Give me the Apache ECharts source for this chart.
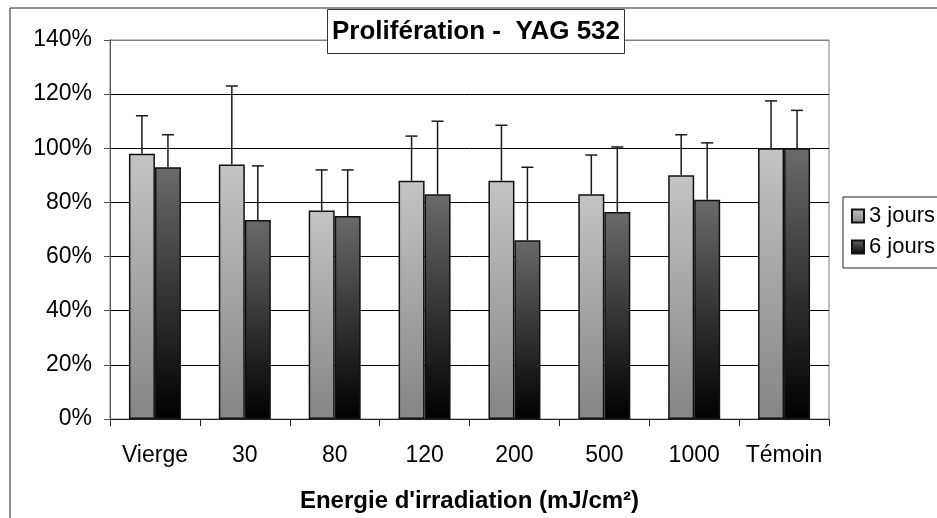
<!DOCTYPE html>
<html>
<head>
<meta charset="utf-8">
<script src="https://cdn.jsdelivr.net/npm/echarts@6/dist/echarts.min.js"></script>
<style>
html,body{margin:0;padding:0;background:#fff;}
#chart{width:937px;height:518px;}
</style>
</head>
<body>
<div id="chart"></div>
<script>
var categories = ['Vierge', '30', '80', '120', '200', '500', '1000', 'Témoin'];
var seriesNames = ['3 jours', '6 jours'];
var values3j = [98, 94, 77, 88, 88, 83, 90, 100];
var values6j = [93, 73.5, 75, 83, 66, 76.5, 81, 100];
var errors3j = [14, 29, 15, 16.5, 20.5, 14.5, 15, 17.5];
var errors6j = [12, 20, 17, 27, 27, 24, 21, 14];
var yTicks = [0, 20, 40, 60, 80, 100, 120, 140];
var titleText = 'Prolifération -  YAG 532';
var xAxisTitle = "Energie d'irradiation (mJ/cm²)";

var FONT = '"Liberation Sans", Arial, sans-serif';
var BAR_W = 26;

var lightGrad = new echarts.graphic.LinearGradient(0, 0, 0, 1, [
  {offset: 0, color: '#c4c4c4'}, {offset: 1, color: '#858585'}]);
var darkGrad = new echarts.graphic.LinearGradient(0, 0, 0, 1, [
  {offset: 0, color: '#6a6a6a'}, {offset: 1, color: '#000000'}]);

function errSeries(vals, errs, offset) {
  var data = vals.map(function (v, i) { return [i, v, v + errs[i]]; });
  return {
    type: 'custom',
    z: 5,
    silent: true,
    data: data,
    encode: {x: 0, y: [1, 2]},
    renderItem: function (params, api) {
      var lo = api.coord([api.value(0), api.value(1)]);
      var hi = api.coord([api.value(0), api.value(2)]);
      var x = lo[0] + offset;
      var style = {stroke: '#1a1a1a', lineWidth: 1.5};
      return {
        type: 'group',
        children: [
          {type: 'line', shape: {x1: x, y1: lo[1], x2: x, y2: hi[1]}, style: style},
          {type: 'line', shape: {x1: x - 6, y1: hi[1], x2: x + 6, y2: hi[1]}, style: style}
        ]
      };
    }
  };
}

var splitColors = yTicks.map(function (t, i) { return i === yTicks.length - 1 ? '#808080' : '#000000'; });

var chart = echarts.init(document.getElementById('chart'), null, {renderer: 'canvas'});
chart.setOption({
  animation: false,
  backgroundColor: '#ffffff',
  textStyle: {fontFamily: FONT},
  graphic: [{
    type: 'rect',
    z: -10,
    shape: {x: 10, y: 8, width: 1100, height: 700},
    style: {fill: 'none', stroke: '#222', lineWidth: 1}
  }],
  title: {
    text: titleText,
    left: 327,
    top: 9,
    padding: [9, 5, 8, 5],
    borderColor: '#333',
    borderWidth: 1,
    backgroundColor: '#fff',
    textStyle: {fontFamily: FONT, fontSize: 26, fontWeight: 'bold', color: '#000', lineHeight: 28}
  },
  legend: {
    orient: 'vertical',
    left: 843,
    top: 197,
    padding: [8, 60, 10, 8],
    itemGap: 9,
    itemWidth: 12,
    itemHeight: 13,
    borderColor: '#222',
    borderWidth: 1,
    icon: 'rect',
    data: seriesNames,
    textStyle: {fontFamily: FONT, fontSize: 22, color: '#000', lineHeight: 21, padding: [0, 0, 0, 0]}
  },
  grid: {
    left: 110, top: 40, right: 108, bottom: 99,
    show: true, borderColor: '#808080', borderWidth: 1, backgroundColor: 'transparent'
  },
  xAxis: {
    type: 'category',
    data: categories,
    name: xAxisTitle,
    nameLocation: 'middle',
    nameGap: 70,
    nameTextStyle: {fontFamily: FONT, fontSize: 24, fontWeight: 'bold', color: '#000'},
    axisLine: {lineStyle: {color: '#222', width: 1}},
    axisTick: {show: true, length: 7, alignWithLabel: false, lineStyle: {color: '#222'}},
    axisLabel: {fontFamily: FONT, fontSize: 23, color: '#000', margin: 25, interval: 0}
  },
  yAxis: {
    type: 'value',
    min: 0, max: 140, interval: 20,
    axisLine: {show: true, lineStyle: {color: '#555', width: 1}},
    axisTick: {show: true, length: 6, lineStyle: {color: '#555'}},
    axisLabel: {fontFamily: FONT, fontSize: 23, color: '#000', margin: 18, formatter: '{value}%'},
    splitLine: {show: true, lineStyle: {color: splitColors, width: 1}}
  },
  series: [
    {
      name: seriesNames[0], type: 'bar', data: values3j,
      barWidth: BAR_W, barGap: '0%',
      itemStyle: {color: lightGrad, borderColor: '#111', borderWidth: 1.5}
    },
    {
      name: seriesNames[1], type: 'bar', data: values6j,
      barWidth: BAR_W, barGap: '0%',
      itemStyle: {color: darkGrad, borderColor: '#111', borderWidth: 1.5}
    },
    errSeries(values3j, errors3j, -BAR_W / 2),
    errSeries(values6j, errors6j, BAR_W / 2)
  ]
});
</script>
</body>
</html>
